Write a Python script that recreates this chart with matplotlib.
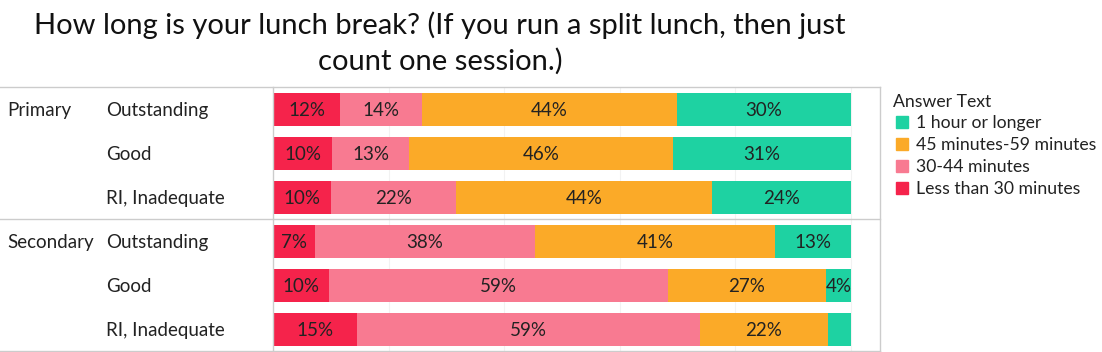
import matplotlib.pyplot as plt
import matplotlib.transforms as mtransforms
from matplotlib.lines import Line2D
from matplotlib.patches import Rectangle

plt.rcParams['font.family'] = ['Lato', 'DejaVu Sans']

groups = ['Primary', '', '', 'Secondary', '', '']
ratings = ['Outstanding', 'Good', 'RI, Inadequate', 'Outstanding', 'Good', 'RI, Inadequate']
answers = ['Less than 30 minutes', '30-44 minutes', '45 minutes-59 minutes', '1 hour or longer']
colors = ['#F5234B', '#F87A91', '#FBAA28', '#1ED2A2']

less30 = [11.6, 10.2, 10.1, 7.2, 9.7, 14.6]
min30_44 = [14.2, 13.4, 21.6, 38.2, 58.7, 59.2]
min45_59 = [44.1, 45.6, 44.3, 41.4, 27.2, 22.3]
hour_plus = [30.1, 30.8, 24.0, 13.2, 4.4, 3.9]
series = [less30, min30_44, min45_59, hour_plus]

W, H = 1102, 352
fig = plt.figure(figsize=(W / 100, H / 100), dpi=100)
ax = fig.add_axes([273 / W, 1 - 351 / H, (880 - 273) / W, (351 - 87) / H])
ax.set_xlim(0, 105.02)
ax.set_ylim(5.5, -0.5)

dy = 0.04  # nudge text to sit on the bar centre
rows = range(len(ratings))
left = [0] * len(ratings)
for vals, col in zip(series, colors):
    ax.barh(rows, vals, left=left, height=0.75, color=col, zorder=2)
    for i, (l, v) in enumerate(zip(left, vals)):
        if v >= 4.2:
            ax.text(l + v / 2, i + dy, f'{round(v):.0f}%', ha='center', va='center',
                    fontsize=13.5, color='#222222', zorder=3)
    left = [a + b for a, b in zip(left, vals)]

for gx in [20, 40, 60, 80, 100]:
    ax.axvline(gx, color='#f2f2f2', lw=0.8, zorder=1)

ax.set_xticks([])
ax.set_yticks([])
for s in ['top', 'bottom']:
    ax.spines[s].set_visible(False)
for s in ['left', 'right']:
    ax.spines[s].set_color('#cccccc')
    ax.spines[s].set_linewidth(1)

trans = mtransforms.blended_transform_factory(fig.transFigure, ax.transData)
for yy in [-0.5, 2.5, 5.5]:
    fig.add_artist(Line2D([0, 880 / W], [yy, yy], transform=trans, color='#cccccc', lw=1))

for i in rows:
    if groups[i]:
        ax.text(7 / W, i + dy, groups[i], transform=trans, ha='left', va='center', fontsize=13.5, color='#222222')
    ax.text(106 / W, i + dy, ratings[i], transform=trans, ha='left', va='center', fontsize=13.5, color='#222222')

fig.text(440 / W, 1 - 25 / H, 'How long is your lunch break? (If you run a split lunch, then just',
         ha='center', va='center', fontsize=21, color='#111111')
fig.text(440 / W, 1 - 61 / H, 'count one session.)',
         ha='center', va='center', fontsize=21, color='#111111')

# legend
fig.text(893 / W, 1 - 102 / H, 'Answer Text', ha='left', va='center', fontsize=12.7, color='#222222')
for k, (name, col) in enumerate(zip(answers[::-1], colors[::-1])):
    yc = 122 + 22 * k
    fig.add_artist(Rectangle((896 / W, 1 - (yc + 6) / H), 12 / W, 12 / H,
                             transform=fig.transFigure, color=col))
    fig.text(916 / W, 1 - (yc + 1) / H, name, ha='left', va='center', fontsize=12.7, color='#222222')

fig.savefig('out.png', dpi=100)
